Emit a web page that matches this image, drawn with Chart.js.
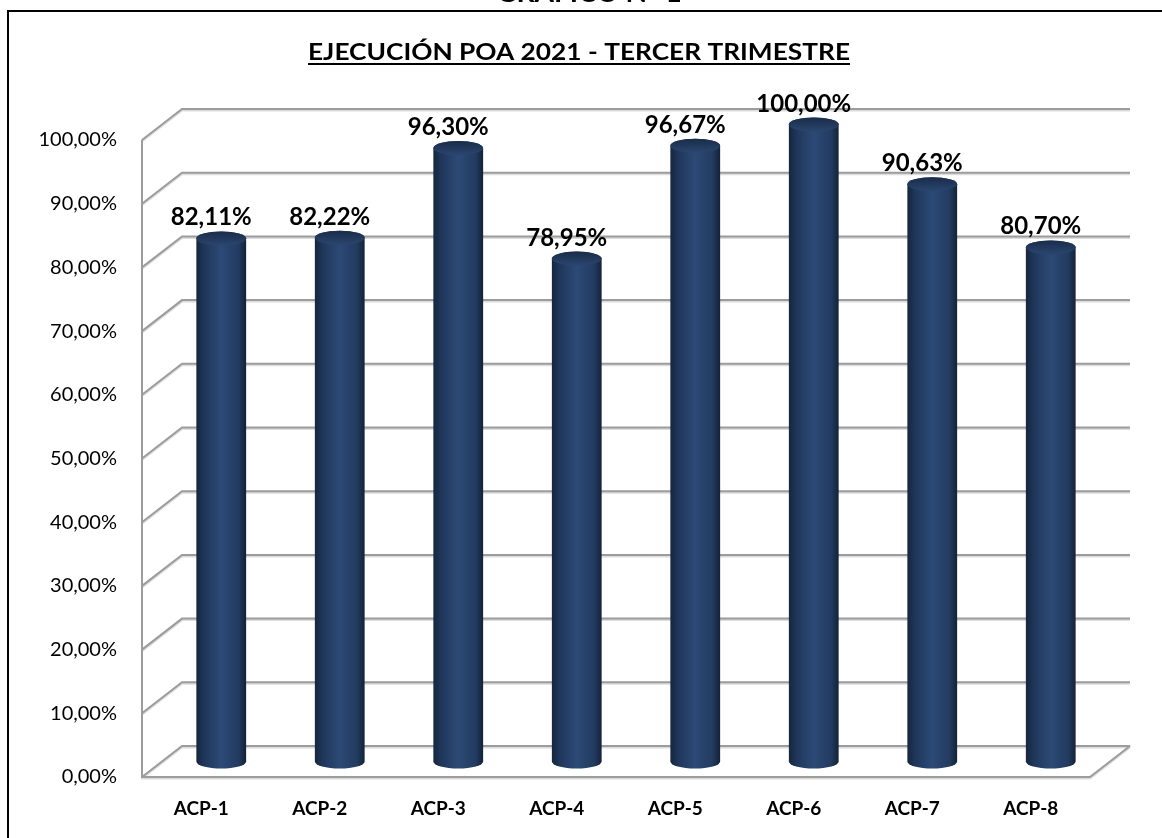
<!DOCTYPE html>
<html>
<head>
<meta charset="utf-8">
<script src="https://cdn.jsdelivr.net/npm/chart.js@4.4.1/dist/chart.umd.min.js"></script>
<style>
html, body { margin: 0; padding: 0; background: #fff; overflow: hidden; }
#wrap { position: relative; width: 1162px; height: 838px; }
</style>
</head>
<body>
<div id="wrap"><canvas id="grafico" width="1162" height="838"></canvas></div>
<script>
// Datos del gráfico
const categorias = ['ACP-1', 'ACP-2', 'ACP-3', 'ACP-4', 'ACP-5', 'ACP-6', 'ACP-7', 'ACP-8'];
const ejecucion = [82.11, 82.22, 96.30, 78.95, 96.67, 100.00, 90.63, 80.70];
const marcasEje = [0, 10, 20, 30, 40, 50, 60, 70, 80, 90, 100];
const titulo = 'EJECUCIÓN POA 2021 - TERCER TRIMESTRE';
const encabezado = 'GRÁFICO N° 1';

// desplazamiento de la pared del fondo (efecto 3D)
const DX = 40, DY = -31;
const RY = 7;

function formato(v) {
    return v.toFixed(2).replace('.', ',') + '%';
}

function trazarRejilla(ctx, a, y) {
    ctx.beginPath();
    marcasEje.forEach(v => {
        const py = y.getPixelForValue(v);
        ctx.moveTo(a.left, py);
        ctx.lineTo(a.left + DX, py + DY);
        ctx.lineTo(a.right + DX, py + DY);
    });
    ctx.moveTo(a.left, y.getPixelForValue(100));
    ctx.lineTo(a.left, a.bottom);
    ctx.lineTo(a.right, a.bottom);
    ctx.lineTo(a.right + DX, a.bottom + DY);
    ctx.stroke();
}

const escena3d = {
    id: 'escena3d',
    beforeDraw(chart) {
        const ctx = chart.ctx;
        ctx.save();
        ctx.fillStyle = '#fff';
        ctx.fillRect(0, 0, chart.width, chart.height);
        // marco
        ctx.strokeStyle = '#000';
        ctx.lineWidth = 2;
        ctx.strokeRect(8, 11, 1300, 1000);
        // encabezado cortado arriba
        ctx.fillStyle = '#000';
        ctx.font = 'bold 28px Lato';
        ctx.textAlign = 'center';
        ctx.textBaseline = 'alphabetic';
        ctx.fillText(encabezado, 589, 2);
        // título subrayado
        ctx.font = 'bold 22px Lato';
        const ancho = ctx.measureText(titulo).width;
        const objetivo = 542;
        ctx.save();
        ctx.translate(579, 60);
        ctx.scale(objetivo / ancho, 1);
        ctx.fillText(titulo, 0, 0);
        ctx.restore();
        ctx.fillRect(579 - objetivo / 2, 63, objetivo, 2);
        ctx.restore();
    },
    beforeDatasetsDraw(chart) {
        const { ctx, chartArea: a, scales: { y } } = chart;
        ctx.save();
        ctx.lineWidth = 2;
        // sombra suave de la rejilla
        ctx.strokeStyle = '#dcdcdc';
        ctx.translate(0, 1.5);
        trazarRejilla(ctx, a, y);
        ctx.translate(0, -1.5);
        ctx.strokeStyle = '#9c9c9c';
        trazarRejilla(ctx, a, y);
        ctx.restore();
    },
    afterDatasetsDraw(chart) {
        const ctx = chart.ctx;
        const meta = chart.getDatasetMeta(0);
        ctx.save();
        meta.data.forEach((bar, i) => {
            const cx = bar.x + DX / 2;
            const rx = bar.width / 2;
            const top = bar.y + DY / 2;
            const bottom = bar.base + DY / 2;

            const g = ctx.createLinearGradient(cx - rx, 0, cx + rx, 0);
            g.addColorStop(0, '#15253d');
            g.addColorStop(0.15, '#1f365a');
            g.addColorStop(0.5, '#2c4a76');
            g.addColorStop(0.85, '#223b60');
            g.addColorStop(1, '#132238');
            ctx.fillStyle = g;
            ctx.beginPath();
            ctx.moveTo(cx - rx, top);
            ctx.lineTo(cx - rx, bottom);
            ctx.ellipse(cx, bottom, rx, RY, 0, Math.PI, 0, true);
            ctx.lineTo(cx + rx, top);
            ctx.ellipse(cx, top, rx, RY, 0, 0, Math.PI, true);
            ctx.closePath();
            ctx.fill();

            // tapa superior
            const gt = ctx.createLinearGradient(0, top - RY, 0, top + RY);
            gt.addColorStop(0, '#1a2c49');
            gt.addColorStop(1, '#2a466f');
            ctx.fillStyle = gt;
            ctx.beginPath();
            ctx.ellipse(cx, top, rx, RY, 0, 0, Math.PI * 2);
            ctx.fill();

            // etiqueta de valor
            ctx.fillStyle = '#000';
            ctx.font = 'bold 24px Lato';
            ctx.textAlign = 'center';
            ctx.textBaseline = 'alphabetic';
            ctx.fillText(formato(ejecucion[i]), bar.x + DX / 4, top - RY - 6);
        });
        ctx.restore();
    }
};

const ctx = document.getElementById('grafico').getContext('2d');
new Chart(ctx, {
    type: 'bar',
    data: {
        labels: categorias,
        datasets: [{
            label: 'Ejecución',
            data: ejecucion,
            backgroundColor: 'rgba(0,0,0,0)',
            borderWidth: 0,
            barPercentage: 0.42,
            categoryPercentage: 1
        }]
    },
    options: {
        responsive: false,
        animation: false,
        layout: {
            padding: { top: 140, right: 72, left: 0, bottom: 0 }
        },
        plugins: {
            legend: { display: false },
            tooltip: { enabled: false },
            title: { display: false }
        },
        scales: {
            x: {
                grid: { display: false, drawTicks: false },
                border: { display: false },
                ticks: {
                    color: '#000',
                    padding: 20,
                    font: { family: 'Lato', size: 19, weight: 'bold' }
                },
                afterFit(scale) { scale.height = 61; }
            },
            y: {
                min: 0,
                max: 100,
                grid: { display: false, drawTicks: false },
                border: { display: false },
                ticks: {
                    stepSize: 10,
                    color: '#000',
                    padding: 25,
                    font: { family: 'Lato', size: 20 },
                    callback: v => formato(v)
                },
                afterFit(scale) { scale.height; scale.width = 142; }
            }
        }
    },
    plugins: [escena3d]
});
</script>
</body>
</html>
